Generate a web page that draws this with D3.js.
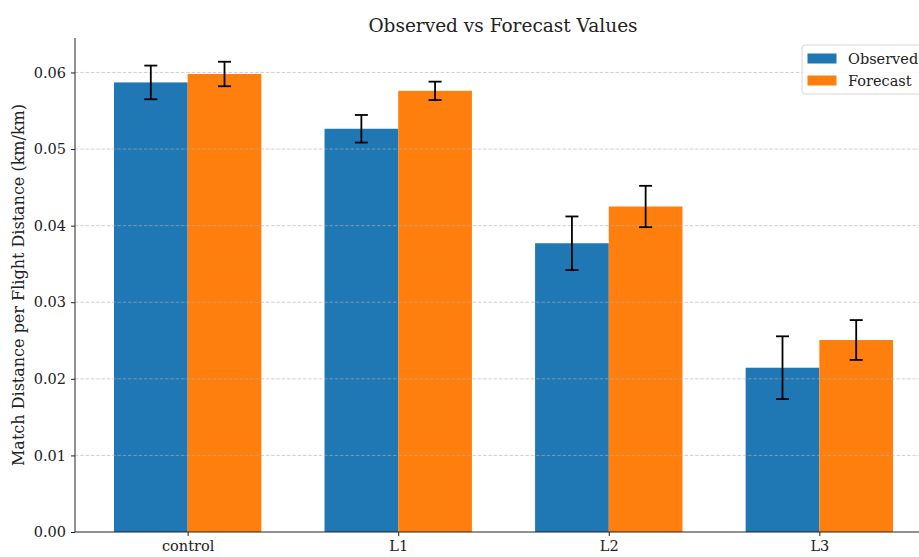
<!DOCTYPE html>
<html>
<head>
<meta charset="utf-8">
<script src="https://cdn.jsdelivr.net/npm/d3@7"></script>
<style>
  html, body { margin: 0; padding: 0; background: #fff; overflow: hidden; }
  svg { display: block; font-family: "DejaVu Serif", serif; }
</style>
</head>
<body>
<svg id="chart" width="919" height="557"></svg>
<script>
// Match distance per flight distance, observed vs forecast, per level
const categories = ["control", "L1", "L2", "L3"];
const seriesNames = ["Observed", "Forecast"];
const observed = [0.0587, 0.05265, 0.0377, 0.02145];
const observedErr = [0.0022, 0.0018, 0.0035, 0.0041];
const forecast = [0.0598, 0.0576, 0.0425, 0.02507];
const forecastErr = [0.0016, 0.0012, 0.0027, 0.0026];
const yTicks = [0.00, 0.01, 0.02, 0.03, 0.04, 0.05, 0.06];
const colors = ["#1f77b4", "#ff7f0e"];

const svg = d3.select("#chart");
const margin = { left: 75, right: -13, top: 38, bottom: 25 };
const W = 919, H = 557;
const plotLeft = margin.left, plotRight = W - margin.right;
const plotTop = margin.top, plotBottom = H - margin.bottom;

const barW = 0.35;
const x = d3.scaleLinear().domain([-0.535, 3.535]).range([plotLeft, plotRight]);
const y = d3.scaleLinear().domain([0, 0.0645]).range([plotBottom, plotTop]);

const series = [
  { name: seriesNames[0], values: observed, errs: observedErr, offset: -barW / 2, color: colors[0] },
  { name: seriesNames[1], values: forecast, errs: forecastErr, offset: barW / 2, color: colors[1] }
];

// bars
series.forEach(s => {
  svg.append("g").selectAll("rect")
    .data(s.values)
    .join("rect")
    .attr("x", (d, i) => x(i + s.offset - barW / 2))
    .attr("width", x(barW) - x(0))
    .attr("y", d => y(d))
    .attr("height", d => y(0) - y(d))
    .attr("fill", s.color);
});

// horizontal grid (drawn over the bars)
svg.append("g").selectAll("line")
  .data(yTicks.slice(1))
  .join("line")
  .attr("x1", plotLeft).attr("x2", plotRight)
  .attr("y1", d => y(d)).attr("y2", d => y(d))
  .attr("stroke", "#b0b0b0")
  .attr("stroke-opacity", 0.6)
  .attr("stroke-width", 1)
  .attr("stroke-dasharray", "3.5,1.8");

// error bars
series.forEach(s => {
  const g = svg.append("g").attr("stroke", "#000").attr("stroke-width", 1.8);
  s.values.forEach((v, i) => {
    const cx = x(i + s.offset);
    const yt = y(v + s.errs[i]), yb = y(v - s.errs[i]);
    g.append("line").attr("x1", cx).attr("x2", cx).attr("y1", yt).attr("y2", yb);
    g.append("line").attr("x1", cx - 6.5).attr("x2", cx + 6.5).attr("y1", yt).attr("y2", yt);
    g.append("line").attr("x1", cx - 6.5).attr("x2", cx + 6.5).attr("y1", yb).attr("y2", yb);
  });
});

// y axis
const yAxis = d3.axisLeft(y).tickValues(yTicks).tickFormat(d3.format(".2f")).tickSize(4).tickPadding(5);
const gy = svg.append("g").attr("transform", `translate(${plotLeft},0)`).call(yAxis);
gy.select(".domain").attr("d", `M0,${plotTop}V${plotBottom}`).attr("stroke", "#222");
gy.selectAll(".tick line").attr("stroke", "#222");
gy.selectAll(".tick text").attr("font-size", 14.5).attr("fill", "#222").attr("font-family", "DejaVu Serif");

// x axis
const xAxis = d3.axisBottom(x).tickValues(d3.range(categories.length)).tickFormat(i => categories[i]).tickSize(4).tickPadding(5);
const gx = svg.append("g").attr("transform", `translate(0,${plotBottom})`).call(xAxis);
gx.select(".domain").attr("d", `M${plotLeft},0H${plotRight}`).attr("stroke", "#222");
gx.selectAll(".tick line").attr("stroke", "#222");
gx.selectAll(".tick text").attr("font-size", 14.5).attr("fill", "#222").attr("font-family", "DejaVu Serif");

// title
svg.append("text")
  .attr("x", 503).attr("y", 31.5)
  .attr("text-anchor", "middle")
  .attr("font-size", 18.5)
  .attr("fill", "#222")
  .text("Observed vs Forecast Values");

// y label
svg.append("text")
  .attr("transform", `translate(24,${(plotTop + plotBottom) / 2}) rotate(-90)`)
  .attr("text-anchor", "middle")
  .attr("font-size", 16)
  .attr("fill", "#222")
  .text("Match Distance per Flight Distance (km/km)");

// legend
const lg = svg.append("g").attr("transform", "translate(802,45)");
lg.append("rect")
  .attr("x", 0).attr("y", 0).attr("width", 140).attr("height", 49)
  .attr("rx", 3)
  .attr("fill", "#fff").attr("fill-opacity", 0.85)
  .attr("stroke", "#d6d6d6");
series.forEach((s, i) => {
  lg.append("rect")
    .attr("x", 5.5).attr("y", 8.5 + i * 22).attr("width", 29).attr("height", 10)
    .attr("fill", s.color);
  lg.append("text")
    .attr("x", 46).attr("y", 18.5 + i * 22)
    .attr("font-size", 14.5)
    .attr("fill", "#222")
    .text(s.name);
});
</script>
</body>
</html>
